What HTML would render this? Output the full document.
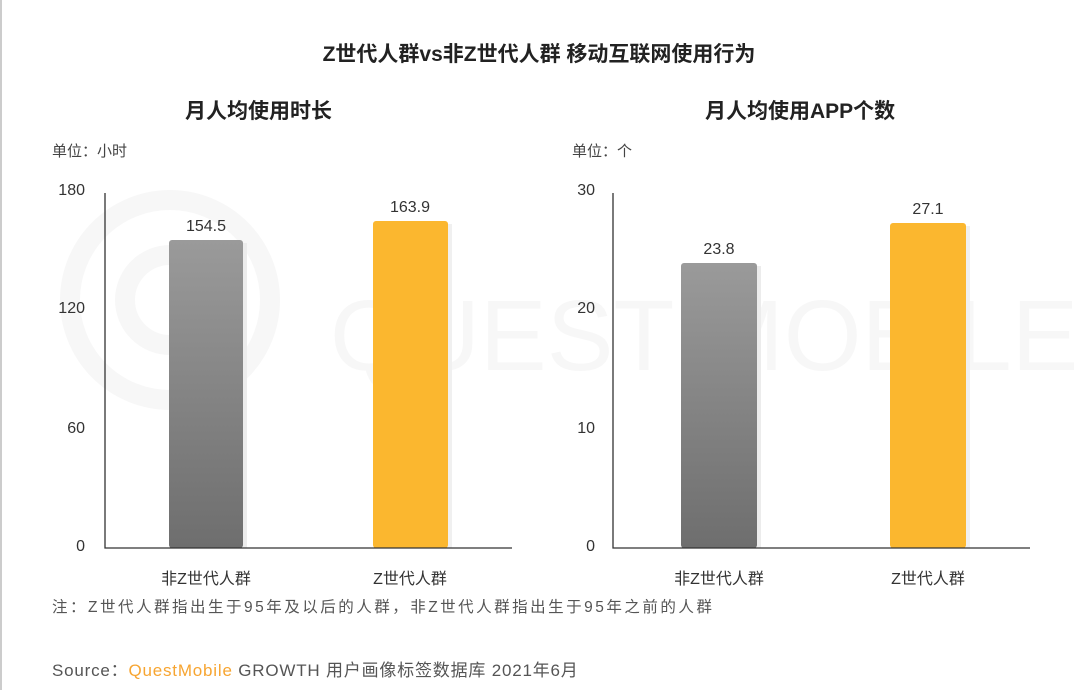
<!DOCTYPE html>
<html><head><meta charset="utf-8"><style>
body{margin:0;width:1078px;height:690px;background:#fff;position:relative;overflow:hidden;font-family:"Liberation Sans","Noto Sans CJK SC",sans-serif;color:#333}
.t{position:absolute;white-space:nowrap}
</style></head><body>
<div style="position:absolute;left:0;top:0;width:2px;height:690px;background:#ccc"></div>
<svg width="1078" height="690" style="position:absolute;left:0;top:0">
<defs>
<linearGradient id="g" x1="0" y1="0" x2="0" y2="1"><stop offset="0" stop-color="#9a9a9a"/><stop offset="1" stop-color="#6e6e6e"/></linearGradient>
</defs>
<g fill="none" stroke="#f7f7f7" stroke-width="20">
<circle cx="170" cy="300" r="100"/><circle cx="170" cy="300" r="45"/>
</g>
<text x="330" y="370" font-size="100" fill="#f7f7f7" font-family="Liberation Sans">QUEST MOBILE</text>
<rect x="173" y="243" width="74" height="305" fill="#ececec"/>
<rect x="169" y="240" width="74" height="308" rx="3" fill="url(#g)"/>
<rect x="377" y="224" width="75" height="324" fill="#f0f0f0"/>
<rect x="373" y="221" width="75" height="327" rx="3" fill="#fbb72f"/>
<rect x="685" y="266" width="76" height="282" fill="#ececec"/>
<rect x="681" y="263" width="76" height="285" rx="3" fill="url(#g)"/>
<rect x="894" y="226" width="76" height="322" fill="#f0f0f0"/>
<rect x="890" y="223" width="76" height="325" rx="3" fill="#fbb72f"/>
<path d="M105 193V548H512" stroke="#333" stroke-width="1.3" fill="none"/>
<path d="M613 193V548H1030" stroke="#333" stroke-width="1.3" fill="none"/>
</svg>
<div class="t" style="left:0;width:1078px;text-align:center;top:38px;font-size:21px;font-weight:bold;color:#222">Z世代人群vs非Z世代人群 移动互联网使用行为</div>
<div class="t" style="left:185px;top:95px;font-size:21px;font-weight:bold;color:#222">月人均使用时长</div>
<div class="t" style="left:705px;top:95px;font-size:21px;font-weight:bold;color:#222">月人均使用APP个数</div>
<div class="t" style="left:52px;top:140px;font-size:15px;color:#444">单位：小时</div>
<div class="t" style="left:572px;top:140px;font-size:15px;color:#444">单位：个</div>
<div class="t" style="left:50px;top:182px;font-size:16px;width:35px;text-align:right">180</div>
<div class="t" style="left:50px;top:300px;font-size:16px;width:35px;text-align:right">120</div>
<div class="t" style="left:50px;top:420px;font-size:16px;width:35px;text-align:right">60</div>
<div class="t" style="left:50px;top:538px;font-size:16px;width:35px;text-align:right">0</div>
<div class="t" style="left:560px;top:182px;font-size:16px;width:35px;text-align:right">30</div>
<div class="t" style="left:560px;top:300px;font-size:16px;width:35px;text-align:right">20</div>
<div class="t" style="left:560px;top:420px;font-size:16px;width:35px;text-align:right">10</div>
<div class="t" style="left:560px;top:538px;font-size:16px;width:35px;text-align:right">0</div>
<div class="t" style="left:166px;width:80px;text-align:center;top:218px;font-size:16px">154.5</div>
<div class="t" style="left:370px;width:80px;text-align:center;top:199px;font-size:16px">163.9</div>
<div class="t" style="left:679px;width:80px;text-align:center;top:241px;font-size:16px">23.8</div>
<div class="t" style="left:888px;width:80px;text-align:center;top:201px;font-size:16px">27.1</div>
<div class="t" style="left:146px;width:120px;text-align:center;top:565px;font-size:16px">非Z世代人群</div>
<div class="t" style="left:350px;width:120px;text-align:center;top:565px;font-size:16px">Z世代人群</div>
<div class="t" style="left:659px;width:120px;text-align:center;top:565px;font-size:16px">非Z世代人群</div>
<div class="t" style="left:868px;width:120px;text-align:center;top:565px;font-size:16px">Z世代人群</div>
<div class="t" style="left:52px;top:595px;font-size:15.5px;color:#555;letter-spacing:2.5px">注：Z世代人群指出生于95年及以后的人群，非Z世代人群指出生于95年之前的人群</div>
<div class="t" style="left:52px;top:656px;font-size:17px;color:#555;letter-spacing:0.8px">Source：<span style="color:#f7a531">QuestMobile</span> GROWTH 用户画像标签数据库 2021年6月</div>
</body></html>
